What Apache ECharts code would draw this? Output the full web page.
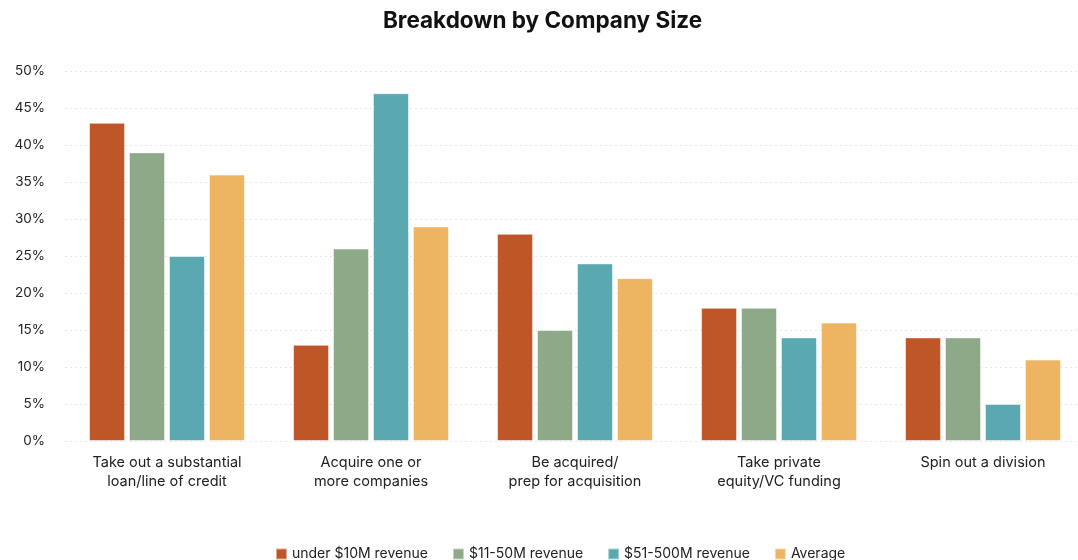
<!DOCTYPE html>
<html>
<head>
<meta charset="utf-8">
<script src="https://cdn.jsdelivr.net/npm/echarts@6/dist/echarts.min.js"></script>
<style>
  html, body { margin: 0; padding: 0; background: #fff; overflow: hidden; }
  #chart { width: 1085px; height: 560px; }
</style>
</head>
<body>
<div id="chart"></div>
<script>
// Plans by company size (share of respondents, %)
const categories = [
  'Take out a substantial\nloan/line of credit',
  'Acquire one or\nmore companies',
  'Be acquired/\nprep for acquisition',
  'Take private\nequity/VC funding',
  'Spin out a division'
];
const seriesNames = ['under $10M revenue', '$11-50M revenue', '$51-500M revenue', 'Average'];
const under10M = [43, 13, 28, 18, 14];
const from11to50M = [39, 26, 15, 18, 14];
const from51to500M = [25, 47, 24, 14, 5];
const average = [36, 29, 22, 16, 11];
const colors = ['#BE5628', '#8DA988', '#5AA8B0', '#EDB562'];

const fontFamily = 'Inter, Lato, sans-serif';
const values = [under10M, from11to50M, from51to500M, average];

const chart = echarts.init(document.getElementById('chart'));
chart.setOption({
  animation: false,
  color: colors,
  title: {
    text: 'Breakdown by Company Size',
    left: 'center',
    top: 5,
    textStyle: { fontFamily, fontSize: 22.5, fontWeight: 'bold', color: '#111' }
  },
  legend: {
    top: 542,
    left: 270,
    itemWidth: 11,
    itemHeight: 11,
    itemGap: 24,
    icon: 'rect',
    textStyle: { fontFamily, fontSize: 14, color: '#222' },
    data: seriesNames
  },
  grid: { left: 65, right: 0, top: 71, height: 370 },
  xAxis: {
    type: 'category',
    data: categories,
    axisLine: { show: false },
    axisTick: { show: false },
    axisLabel: { fontFamily, fontSize: 14.5, color: '#222', margin: 12, lineHeight: 19 }
  },
  yAxis: {
    type: 'value',
    min: 0,
    max: 50,
    interval: 5,
    axisLabel: { formatter: '{value}%', fontFamily, fontSize: 13.5, color: '#222', margin: 20 },
    splitLine: { lineStyle: { color: '#e6e6e6', type: [2, 3], width: 1 } }
  },
  series: seriesNames.map((name, i) => ({
    name,
    type: 'bar',
    data: values[i],
    barWidth: 36,
    barGap: '11%',
    itemStyle: { color: colors[i], borderColor: 'rgba(255,255,255,0.5)', borderWidth: 1 }
  }))
});
</script>
</body>
</html>
